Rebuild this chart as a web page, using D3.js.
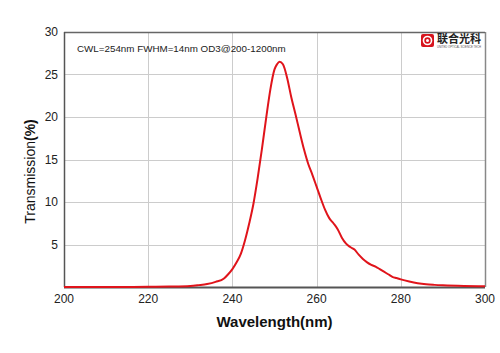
<!DOCTYPE html>
<html>
<head>
<meta charset="utf-8">
<script src="https://cdn.jsdelivr.net/npm/d3@7"></script>
<style>
  body { margin: 0; background: #fff; }
  svg { font-family: "Liberation Sans", Arial, sans-serif; }
</style>
</head>
<body>
<div id="chart"></div>
<script>
// wavelength (nm) and transmission (%)
const wavelength = [200, 210, 220, 225, 230, 232, 234, 236, 238, 239, 240, 241, 242, 243, 244, 245, 246, 247, 248, 249, 250, 250.6, 251.2, 252, 253, 254, 255, 256, 257, 258, 259, 260, 261, 262, 263, 264, 265, 266, 267, 268, 269, 270, 271, 272, 273, 274, 275, 276, 277, 278, 279, 280, 282, 284, 286, 288, 290, 295, 300];
const transmission = [0, 0, 0.02, 0.05, 0.12, 0.22, 0.35, 0.6, 1.0, 1.5, 2.1, 2.9, 3.9, 5.5, 7.5, 9.8, 12.8, 16.2, 19.8, 23.2, 25.6, 26.2, 26.5, 26.2, 24.6, 22.3, 20.3, 18.2, 16.2, 14.5, 13.2, 11.8, 10.4, 9.1, 8.1, 7.5, 6.8, 5.8, 5.1, 4.7, 4.4, 3.8, 3.3, 2.9, 2.6, 2.4, 2.1, 1.8, 1.5, 1.2, 1.05, 0.9, 0.65, 0.45, 0.32, 0.25, 0.2, 0.12, 0.08];
const xTicks = [200, 220, 240, 260, 280, 300];
const yTicks = [5, 10, 15, 20, 25, 30];
const note = "CWL=254nm FWHM=14nm OD3@200-1200nm";

const width = 500, height = 353;
const margin = { left: 64, right: 15, top: 32, bottom: 66 };

const svg = d3.select("#chart").append("svg")
    .attr("width", width)
    .attr("height", height);

const x = d3.scaleLinear().domain([200, 300]).range([margin.left, width - margin.right]);
const y = d3.scaleLinear().domain([0, 30]).range([height - margin.bottom, margin.top]);

// grid
const grid = svg.append("g").attr("stroke", "#cccccc").attr("stroke-width", 1);
grid.selectAll(".vg").data(xTicks.slice(1, -1)).join("line")
    .attr("x1", (d) => Math.round(x(d)) + 0.5).attr("x2", (d) => Math.round(x(d)) + 0.5)
    .attr("y1", y(30)).attr("y2", y(0));
grid.selectAll(".hg").data(yTicks.slice(0, -1)).join("line")
    .attr("x1", x(200)).attr("x2", x(300))
    .attr("y1", (d) => Math.round(y(d)) + 0.5).attr("y2", (d) => Math.round(y(d)) + 0.5);

// frame
svg.append("line").attr("x1", x(300) + 0.5).attr("x2", x(300) + 0.5)
    .attr("y1", y(30)).attr("y2", y(0)).attr("stroke", "#888").attr("stroke-width", 1.5);
svg.append("line").attr("x1", x(200)).attr("x2", x(300))
    .attr("y1", y(30) + 0.5).attr("y2", y(30) + 0.5).attr("stroke", "#666").attr("stroke-width", 1.5);
svg.append("line").attr("x1", x(200) + 0.5).attr("x2", x(200) + 0.5)
    .attr("y1", y(30)).attr("y2", y(0)).attr("stroke", "#555").attr("stroke-width", 1.5);
svg.append("line").attr("x1", x(200)).attr("x2", x(300))
    .attr("y1", y(0) + 0.5).attr("y2", y(0) + 0.5).attr("stroke", "#555").attr("stroke-width", 2);

// tick labels
svg.append("g").selectAll("text").data(xTicks).join("text")
    .attr("x", (d) => x(d)).attr("y", y(0) + 16)
    .attr("text-anchor", "middle").attr("font-size", 12).attr("fill", "#222")
    .text((d) => d);
svg.append("g").selectAll("text").data(yTicks).join("text")
    .attr("x", x(200) - 6).attr("y", (d) => y(d) + 4)
    .attr("text-anchor", "end").attr("font-size", 12).attr("fill", "#222")
    .text((d) => d);

// axis titles
svg.append("text")
    .attr("x", (x(200) + x(300)) / 2).attr("y", 327)
    .attr("text-anchor", "middle").attr("font-size", 15).attr("font-weight", "bold")
    .attr("fill", "#111").text("Wavelength(nm)");
const yt = svg.append("text")
    .attr("transform", `translate(35,${(y(0) + y(30)) / 2 + 12}) rotate(-90)`)
    .attr("text-anchor", "middle").attr("font-size", 14).attr("fill", "#111");
yt.append("tspan").text("Transmission");
yt.append("tspan").attr("font-weight", "bold").text("(%)");

// curve
const line = d3.line()
    .x((d, i) => x(wavelength[i]))
    .y((d) => y(d))
    .curve(d3.curveMonotoneX);
svg.append("path")
    .datum(transmission)
    .attr("d", line)
    .attr("fill", "none")
    .attr("stroke", "#e0141b")
    .attr("stroke-width", 2);

// note
svg.append("text").attr("x", 77).attr("y", 52)
    .attr("font-size", 9.8).attr("fill", "#222").text(note);

// logo
const logo = svg.append("g").attr("transform", "translate(421,34)");
logo.append("rect").attr("width", 13).attr("height", 13).attr("rx", 2).attr("fill", "#d7141d");
logo.append("circle").attr("cx", 6.5).attr("cy", 6.5).attr("r", 4).attr("fill", "none")
    .attr("stroke", "#fff").attr("stroke-width", 1.6);
logo.append("circle").attr("cx", 6.5).attr("cy", 6.5).attr("r", 1.5).attr("fill", "#fff");
logo.append("text").attr("x", 16).attr("y", 9).attr("font-size", 11).attr("font-weight", "bold")
    .attr("font-family", "Noto Sans CJK SC").attr("fill", "#222").text("联合光科");
logo.append("text").attr("x", 16).attr("y", 13.5).attr("font-size", 3).attr("fill", "#555")
    .attr("textLength", 44).attr("lengthAdjust", "spacingAndGlyphs")
    .text("UNITED OPTICAL SCIENCE TECH");
</script>
</body>
</html>
